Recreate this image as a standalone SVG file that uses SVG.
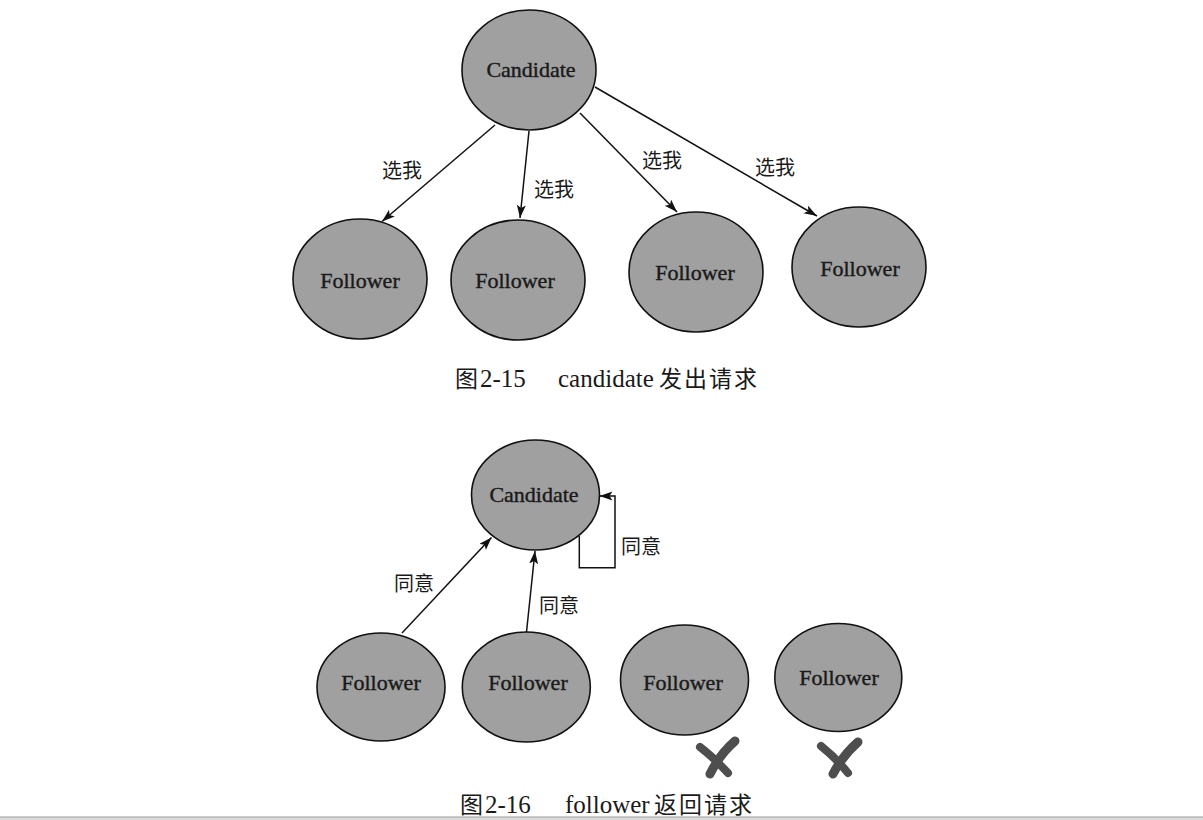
<svg xmlns="http://www.w3.org/2000/svg" width="1203" height="820" viewBox="0 0 1203 820">
<style>
.node ellipse{fill:#a0a0a0;stroke:#111;stroke-width:1.6}
.nt{font-family:"Liberation Serif","Noto Serif",serif;font-size:22px;fill:#1a1a1a;stroke:#1a1a1a;stroke-width:0.4;text-anchor:middle}
.lbl{font-family:"Noto Sans CJK SC",sans-serif;font-size:20px;fill:#1a1a1a;text-anchor:middle}
.cap{font-family:"Liberation Serif","Noto Sans CJK SC",serif;font-size:25px;fill:#1a1a1a}
.cj{font-family:"Noto Sans CJK SC",sans-serif;font-size:23px}
.edge{fill:none;stroke:#111;stroke-width:1.5}
.x{fill:none;stroke:#4e4e4e;stroke-linecap:round}
</style>
<defs>
<marker id="arr" markerUnits="userSpaceOnUse" markerWidth="14" markerHeight="10" refX="13" refY="4.5" orient="auto">
<path d="M0,0 L13,4.5 L0,9 L3,4.5 z" fill="#111"/>
</marker>
</defs>
<rect width="1203" height="820" fill="#fff"/>

<!-- Figure 2-15 -->
<g id="connectors-top">
<line class="edge" x1="495" y1="125" x2="382" y2="221.5" marker-end="url(#arr)"/>
<line class="edge" x1="529" y1="131" x2="520" y2="218" marker-end="url(#arr)"/>
<line class="edge" x1="580" y1="113" x2="677" y2="212" marker-end="url(#arr)"/>
<line class="edge" x1="595" y1="87" x2="817" y2="216" marker-end="url(#arr)"/>
<text class="lbl" x="402" y="178">选我</text>
<text class="lbl" x="554" y="197">选我</text>
<text class="lbl" x="662" y="168">选我</text>
<text class="lbl" x="775" y="175">选我</text>
</g>
<g id="candidate-top" class="node"><ellipse cx="529" cy="70" rx="67" ry="60"/><text class="nt" x="531" y="77">Candidate</text></g>
<g id="follower-t1" class="node"><ellipse cx="360" cy="279" rx="67" ry="60"/><text class="nt" x="360" y="288">Follower</text></g>
<g id="follower-t2" class="node"><ellipse cx="518" cy="280" rx="67" ry="60"/><text class="nt" x="515" y="288">Follower</text></g>
<g id="follower-t3" class="node"><ellipse cx="696" cy="272" rx="67" ry="60"/><text class="nt" x="695" y="280">Follower</text></g>
<g id="follower-t4" class="node"><ellipse cx="859" cy="267" rx="67" ry="60"/><text class="nt" x="860" y="276">Follower</text></g>
<text class="cap" y="387"><tspan class="cj" x="455">图</tspan><tspan x="480">2-15</tspan><tspan x="558">candidate</tspan><tspan class="cj" x="659" letter-spacing="2">发出请求</tspan></text>

<!-- Figure 2-16 -->
<g id="connectors-bottom">
<line class="edge" x1="402" y1="633" x2="491.5" y2="537.5" marker-end="url(#arr)"/>
<line class="edge" x1="526.5" y1="632" x2="535" y2="551" marker-end="url(#arr)"/>
<polyline class="edge" points="579.3,536 579.3,567.7 615,567.7 615,496 599.5,496" marker-end="url(#arr)"/>
<text class="lbl" x="414" y="591">同意</text>
<text class="lbl" x="559" y="613">同意</text>
<text class="lbl" x="641" y="554">同意</text>
</g>
<g id="candidate-bottom" class="node"><ellipse cx="535.5" cy="495" rx="64" ry="55"/><text class="nt" x="534" y="502">Candidate</text></g>
<g id="follower-b1" class="node"><ellipse cx="381" cy="687" rx="64" ry="54"/><text class="nt" x="381" y="690">Follower</text></g>
<g id="follower-b2" class="node"><ellipse cx="526.3" cy="687" rx="64" ry="55"/><text class="nt" x="528" y="690">Follower</text></g>
<g id="follower-b3" class="node"><ellipse cx="684.5" cy="680" rx="64" ry="55"/><text class="nt" x="683" y="690">Follower</text></g>
<g id="follower-b4" class="node"><ellipse cx="838.3" cy="677.5" rx="63.5" ry="54"/><text class="nt" x="839" y="685">Follower</text></g>
<g id="x-marks">
<path class="x" d="M700,747 Q713,757 728,773" stroke-width="8"/>
<path class="x" d="M735,741 Q720,754 710,774" stroke-width="9"/>
<path class="x" d="M821,746 Q835,757 848,773" stroke-width="8"/>
<path class="x" d="M858,742 Q843,755 833,774" stroke-width="9"/>
</g>
<text class="cap" y="813"><tspan class="cj" x="460">图</tspan><tspan x="485">2-16</tspan><tspan x="565">follower</tspan><tspan class="cj" x="654" letter-spacing="2">返回请求</tspan></text>
<rect x="0" y="817" width="1203" height="3" fill="#dcdcdc"/>
<line x1="0" y1="817" x2="1203" y2="817" stroke="#9a9a9a" stroke-width="1"/>
</svg>
